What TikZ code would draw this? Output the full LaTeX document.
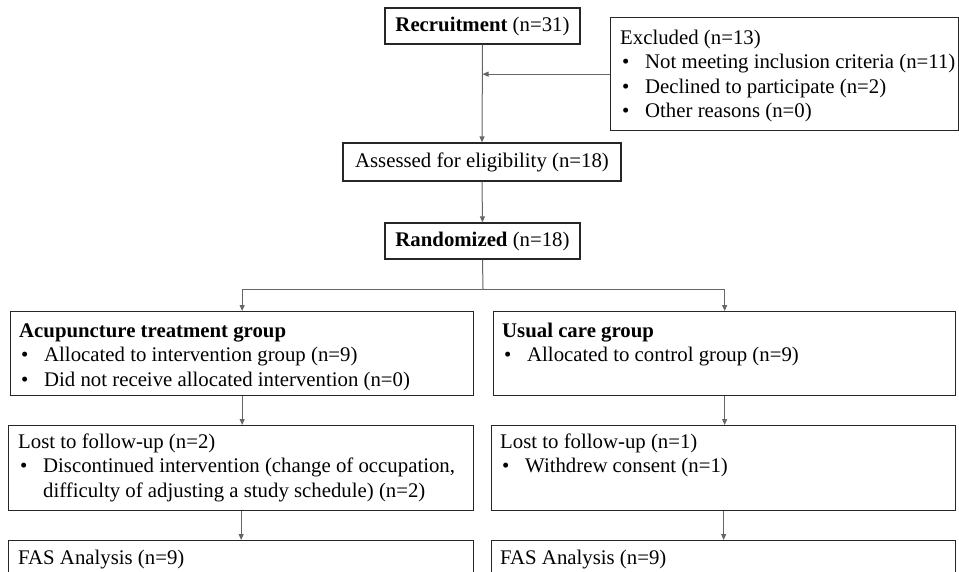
\documentclass[tikz,border=0pt]{standalone}
\usepackage{fontspec}
\setmainfont{Liberation Serif}
\usetikzlibrary{arrows.meta}
\newcommand{\bul}{\makebox[25pt][l]{\hspace{2pt}\textbullet}}
\newcommand{\fl}{\rule{0pt}{16pt}}
\begin{document}
\begin{tikzpicture}[x=1pt,y=-1pt,
  box/.style={draw=black!85,line width=1.3pt,rectangle,inner sep=0pt,anchor=north west},
  cbox/.style={draw=black!85,line width=1.3pt,rectangle,inner sep=0pt,align=center,
    font=\fontsize{20.8}{24.5}\selectfont},
  txt/.style={inner sep=0pt,anchor=north west,align=left,font=\fontsize{20.8}{24.5}\selectfont},
  conn/.style={draw=black!60,line width=1pt,-{Triangle[length=6pt,width=5pt]}},
  cline/.style={draw=black!60,line width=1pt}]
\useasboundingbox (0,0) rectangle (959,571);
\clip (0,0) rectangle (959,571);
\fill[white] (0,0) rectangle (959,571);

% centred boxes
\node[cbox,minimum width=195pt,minimum height=36pt] (recr) at (482.5,26) {\textbf{Recruitment} (n=31)};
\node[cbox,minimum width=278pt,minimum height=38pt] (asse) at (482,162) {Assessed for eligibility (n=18)};
\node[cbox,minimum width=195pt,minimum height=36pt] (rand) at (482.5,241) {\textbf{Randomized} (n=18)};

% left-aligned boxes
\node[box,minimum width=348pt,minimum height=113pt] (excl) at (610,17) {};
\node[txt] (exclT) at (620,28)
  {\fl Excluded (n=13)\\
   \bul Not meeting inclusion criteria (n=11)\\
   \bul Declined to participate (n=2)\\
   \bul Other reasons (n=0)};

\node[box,minimum width=463pt,minimum height=84pt] (acu) at (10,311) {};
\node[txt] (acuT) at (19,321)
  {\fl\textbf{Acupuncture treatment group}\\
   \bul Allocated to intervention group (n=9)\\
   \bul Did not receive allocated intervention (n=0)};
\node[box,minimum width=462pt,minimum height=84pt] (ucg) at (493,311) {};
\node[txt] (ucgT) at (502,321)
  {\fl\textbf{Usual care group}\\
   \bul Allocated to control group (n=9)};

\node[box,minimum width=465pt,minimum height=85pt] (lost1) at (8,425) {};
\node[txt] (lost1T) at (18,432)
  {\fl Lost to follow-up (n=2)\\
   \bul Discontinued intervention (change of occupation,\\
   \hspace*{25pt}difficulty of adjusting a study schedule) (n=2)};
\node[box,minimum width=464pt,minimum height=85pt] (lost2) at (491,425) {};
\node[txt] (lost2T) at (500,432)
  {\fl Lost to follow-up (n=1)\\
   \bul Withdrew consent (n=1)};

\node[box,minimum width=465pt,minimum height=85pt] (fas1) at (8,540) {};
\node[txt] (fas1T) at (18,548) {\fl FAS Analysis (n=9)};
\node[box,minimum width=464pt,minimum height=85pt] (fas2) at (491,540) {};
\node[txt] (fas2T) at (500,548) {\fl FAS Analysis (n=9)};

% connectors
\coordinate (j1) at (recr.south |- excl.west);
\coordinate (split) at (483,289);
\draw[conn] (recr.south) -- (asse.north);
\draw[conn] (excl.west) -- (j1);
\draw[conn] (asse.south) -- (rand.north);
\draw[cline] (rand.south) -- (split);
\draw[conn] (split) -| (acu.north);
\draw[conn] (split) -| (ucg.north);
\draw[conn] (acu.south) -- (acu.south |- lost1.north);
\draw[conn] (ucg.south) -- (ucg.south |- lost2.north);
\draw[conn] (lost1.south) -- (lost1.south |- fas1.north);
\draw[conn] (lost2.south) -- (lost2.south |- fas2.north);
\end{tikzpicture}
\end{document}
